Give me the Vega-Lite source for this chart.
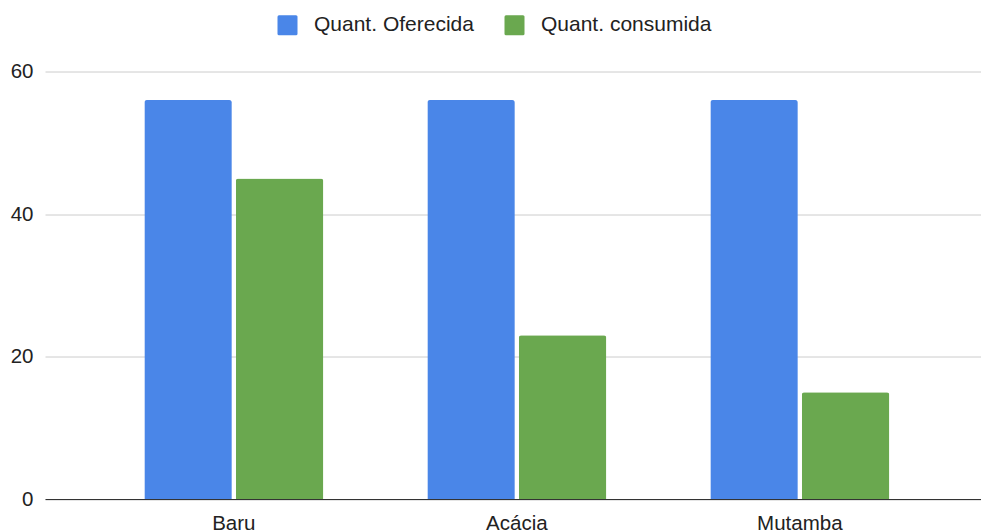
{
  "$schema": "https://vega.github.io/schema/vega-lite/v6.json",
  "autosize": {"type": "none"},
  "padding": {"left": 45, "top": 71.5, "right": 0, "bottom": 33},
  "width": 936,
  "height": 427.5,
  "background": "#ffffff",
  "config": {
    "view": {"stroke": null},
    "font": "Liberation Sans"
  },
  "data": {
    "values": [
      {"fruta": "Baru", "serie": "Quant. Oferecida", "valor": 56},
      {"fruta": "Baru", "serie": "Quant. consumida", "valor": 45},
      {"fruta": "Acácia", "serie": "Quant. Oferecida", "valor": 56},
      {"fruta": "Acácia", "serie": "Quant. consumida", "valor": 23},
      {"fruta": "Mutamba", "serie": "Quant. Oferecida", "valor": 56},
      {"fruta": "Mutamba", "serie": "Quant. consumida", "valor": 15}
    ]
  },
  "mark": {"type": "bar", "cornerRadiusTopLeft": 2.5, "cornerRadiusTopRight": 2.5},
  "encoding": {
    "x": {
      "field": "fruta",
      "type": "nominal",
      "sort": ["Baru", "Acácia", "Mutamba"],
      "scale": {"paddingInner": 0.3675, "paddingOuter": 0.3375, "align": 0.52},
      "axis": {
        "title": null,
        "labelAngle": 0,
        "ticks": false,
        "domainColor": "#333333",
        "domainWidth": 1,
        "labelFont": "Liberation Sans",
        "labelFontSize": 20.5,
        "labelColor": "#222222",
        "labelPadding": 14.5
      }
    },
    "xOffset": {
      "field": "serie",
      "type": "nominal",
      "sort": ["Quant. Oferecida", "Quant. consumida"],
      "scale": {"paddingInner": 0.0437, "paddingOuter": 0}
    },
    "y": {
      "field": "valor",
      "type": "quantitative",
      "scale": {"domain": [0, 60], "nice": false},
      "axis": {
        "title": null,
        "values": [0, 20, 40, 60],
        "domain": false,
        "ticks": false,
        "gridColor": "#cccccc",
        "gridWidth": 1,
        "labelFont": "Liberation Sans",
        "labelFontSize": 20.5,
        "labelColor": "#222222",
        "labelPadding": 12
      }
    },
    "color": {
      "field": "serie",
      "type": "nominal",
      "sort": ["Quant. Oferecida", "Quant. consumida"],
      "scale": {"domain": ["Quant. Oferecida", "Quant. consumida"], "range": ["#4a86e8", "#6aa84f"]},
      "legend": {
        "title": null,
        "orient": "none",
        "direction": "horizontal",
        "legendX": 232,
        "legendY": -57,
        "symbolType": "M-1,-0.85 Q-1,-1 -0.85,-1 L0.85,-1 Q1,-1 1,-0.85 L1,0.85 Q1,1 0.85,1 L-0.85,1 Q-1,1 -1,0.85 Z",
        "symbolSize": 400,
        "symbolStrokeWidth": 0,
        "symbolOpacity": 1,
        "labelFont": "Liberation Sans",
        "labelFontSize": 21,
        "labelLimit": 400,
        "labelColor": "#222222",
        "labelOffset": 16,
        "columnPadding": 30,
        "padding": 0
      }
    }
  }
}
